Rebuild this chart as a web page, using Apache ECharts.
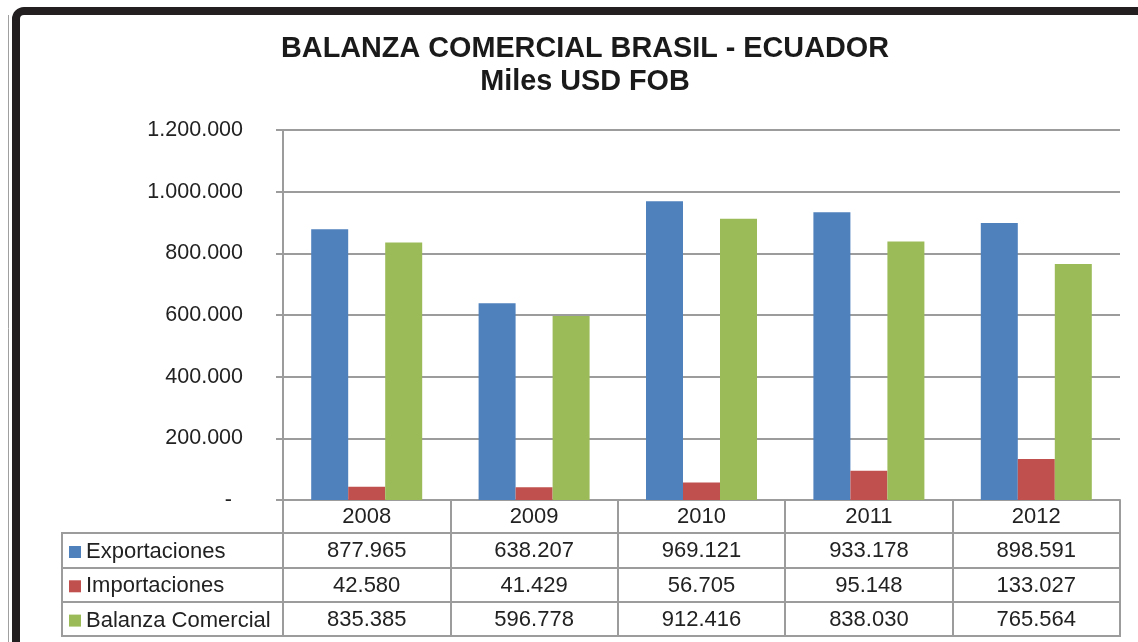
<!DOCTYPE html>
<html><head><meta charset="utf-8">
<script src="https://cdn.jsdelivr.net/npm/echarts@6/dist/echarts.min.js"></script>
<style>html,body{margin:0;padding:0;background:#fff}#c{width:1138px;height:642px}</style>
</head><body><div id="c"></div>
<script>
// ---- data ----
const years = ['2008', '2009', '2010', '2011', '2012'];
const seriesNames = ['Exportaciones', 'Importaciones', 'Balanza Comercial'];
const exportaciones = [877965, 638207, 969121, 933178, 898591];
const importaciones = [42580, 41429, 56705, 95148, 133027];
const balanza = [835385, 596778, 912416, 838030, 765564];
const yMin = 0, yMax = 1200000, yInterval = 200000;

// ---- style / layout ----
const FONT = 'Arial, "Liberation Sans", sans-serif';
const TXT = '#222';
const GRAY = '#9c9c9c';
const colors = ['#4F81BD', '#C0504D', '#9BBB59'];
const FS = 22;
const gridL = 283, gridR = 1120, gridT = 130, gridB = 500;
const rowOffsets = [33, 68, 102, 136]; // from x-axis line, table row borders
const tableLeft = 62;

function fmt(n) { return String(n).replace(/\B(?=(\d{3})+(?!\d))/g, '.'); }

const chart = echarts.init(document.getElementById('c'), null, {renderer: 'canvas'});
const rowsData = [exportaciones, importaciones, balanza];

const xAxes = [{
  type: 'category', data: years, position: 'bottom', offset: 0,
  axisLine: {show: true, lineStyle: {color: GRAY, width: 2}},
  axisTick: {show: true, interval: 0, length: rowOffsets[3], lineStyle: {color: GRAY, width: 2}},
  axisLabel: {interval: 0, fontSize: FS, color: TXT, fontFamily: FONT, margin: 6}
}];
rowsData.forEach((arr, i) => {
  xAxes.push({
    type: 'category', data: arr.map(fmt), position: 'bottom', offset: rowOffsets[i],
    axisLine: {show: false}, axisTick: {show: false}, splitLine: {show: false},
    axisLabel: {interval: 0, fontSize: FS, color: TXT, fontFamily: FONT, margin: 7}
  });
});

const graphics = [];
// table borders
rowOffsets.forEach(o => {
  graphics.push({type: 'line', silent: true, shape: {x1: tableLeft, y1: gridB + o, x2: gridR + 1, y2: gridB + o},
    style: {stroke: GRAY, lineWidth: 2}});
});
graphics.push({type: 'line', silent: true, shape: {x1: tableLeft, y1: gridB + rowOffsets[0] - 1, x2: tableLeft, y2: gridB + rowOffsets[3] + 1},
  style: {stroke: GRAY, lineWidth: 2}});
// outer frame
graphics.push({type: 'rect', silent: true, shape: {x: 16, y: 11, width: 1300, height: 800, r: 8},
  style: {fill: null, stroke: '#231f20', lineWidth: 8}});
graphics.push({type: 'line', silent: true, shape: {x1: 8.5, y1: 15, x2: 8.5, y2: 642},
  style: {stroke: '#a0a0a0', lineWidth: 1}});

chart.setOption({
  animation: false,
  backgroundColor: '#fff',
  color: colors,
  title: {
    text: 'BALANZA COMERCIAL BRASIL - ECUADOR\nMiles USD FOB',
    left: 580, top: 28, textAlign: 'center',
    textStyle: {fontSize: 28.8, fontWeight: 'bold', color: '#1a1a1a', fontFamily: FONT, lineHeight: 33}
  },
  legend: {
    data: seriesNames, orient: 'vertical', left: 69, top: 541, padding: 0,
    itemWidth: 12, itemHeight: 12, itemGap: 12.3, icon: 'rect', selectedMode: false,
    textStyle: {fontSize: FS, color: TXT, fontFamily: FONT, lineHeight: 22, padding: [0, 0, 0, 0]}
  },
  grid: {left: gridL, right: 1138 - gridR, top: gridT, bottom: 642 - gridB, containLabel: false},
  xAxis: xAxes,
  yAxis: {
    type: 'value', min: yMin, max: yMax, interval: yInterval,
    axisLine: {show: true, lineStyle: {color: GRAY, width: 2}},
    axisTick: {show: true, length: 7, lineStyle: {color: GRAY, width: 2}},
    splitLine: {show: true, lineStyle: {color: GRAY, width: 2}},
    axisLabel: {
      fontSize: 21.5, color: TXT, fontFamily: FONT, margin: 40,
      formatter: v => v === 0 ? '{d|-}' : fmt(v),
      rich: {d: {fontSize: 21.5, color: TXT, fontFamily: FONT, padding: [0, 11, 0, 0]}}
    }
  },
  series: [
    {name: seriesNames[0], type: 'bar', data: exportaciones, barWidth: 37, barGap: '0%', xAxisIndex: 0},
    {name: seriesNames[1], type: 'bar', data: importaciones, barWidth: 37, barGap: '0%', xAxisIndex: 0},
    {name: seriesNames[2], type: 'bar', data: balanza, barWidth: 37, barGap: '0%', xAxisIndex: 0}
  ],
  graphic: graphics
});
</script>
</body></html>
